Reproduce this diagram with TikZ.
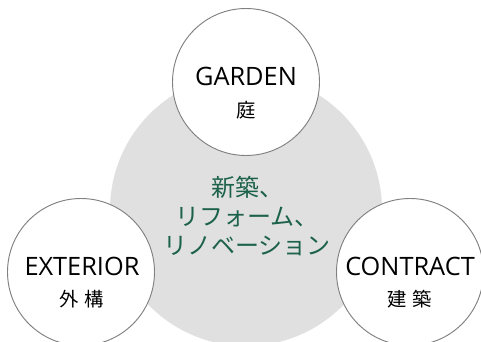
\documentclass[tikz,border=0pt]{standalone}
\usepackage{fontspec}
\setmainfont{Noto Sans CJK JP}
\newfontfamily\latinface{Open Sans}
\definecolor{bggrey}{RGB}{224,224,224}
\definecolor{ringgrey}{RGB}{128,128,128}
\definecolor{leafgreen}{RGB}{28,98,74}
\begin{document}
\begin{tikzpicture}[x=0.75pt,y=-0.75pt,
  bubble/.style={circle,draw=ringgrey,line width=0.7pt,fill=white,minimum size=147*0.75pt,inner sep=0pt},
  entxt/.style={font=\latinface\fontsize{19pt}{22pt}\selectfont,text=black},
  jptxt/.style={font=\fontsize{14.5pt}{17pt}\selectfont,text=black},
  hubtxt/.style={font=\fontsize{18pt}{21.75pt}\selectfont,text=leafgreen,align=center}]
\useasboundingbox (0,0) rectangle (481,342);
\fill[white] (0,0) rectangle (481,342);
\node[circle,fill=bggrey,minimum size=272*0.75pt,inner sep=0pt] (hub) at (246,210) {};
\node[bubble] (garden) at (246,82) {};
\node[bubble] (exterior) at (81,272) {};
\node[bubble] (contract) at (410,272) {};
\node[entxt] (gardenen) at (246,76) {GARDEN};
\node[jptxt] (gardenjp) at (246,110) {庭};
\node[entxt] (exterioren) at (82,266) {EXTERIOR};
\node[jptxt] (exteriorjp) at (82,299) {外\hspace{0.3em}構};
\node[entxt] (contracten) at (410,266) {CONTRACT};
\node[jptxt] (contractjp) at (410,299) {建\hspace{0.3em}築};
\node[hubtxt] (hubtext) at (247,216) {新築、\\リフォーム、\\リノベーション};
\end{tikzpicture}
\end{document}
